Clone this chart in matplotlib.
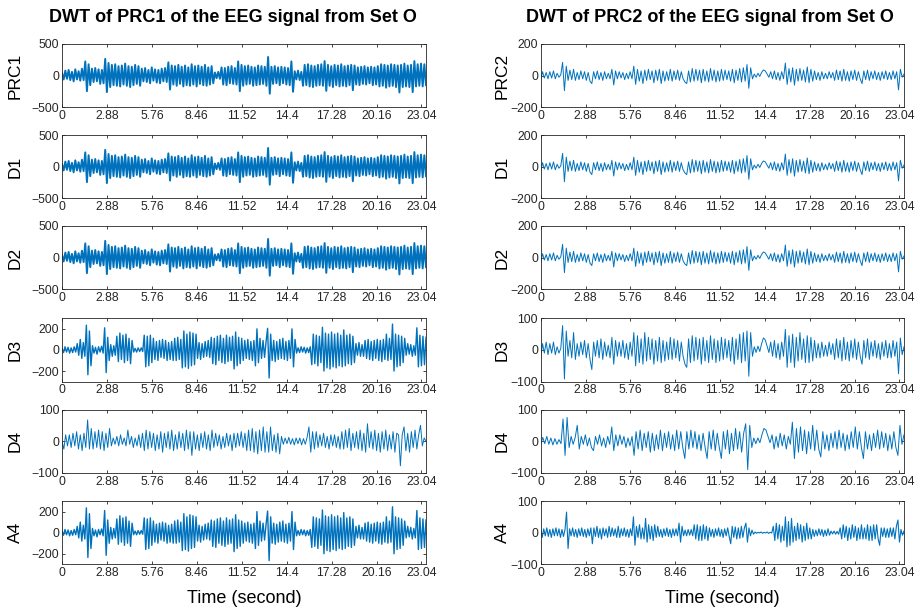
import numpy as np
import matplotlib
matplotlib.use('Agg')
import matplotlib.pyplot as plt

plt.rcParams['font.family'] = ['Liberation Sans', 'DejaVu Sans']

# ---------------- data (extrema) ----------------
T_END = 23.33
tick_labels = ['0', '2.88', '5.76', '8.46', '11.52', '14.4', '17.28', '20.16', '23.04']

prc1_left = [40,-60,80,-50,90,-70,60,-90,100,-60,70,-80,110,-70,
             225,-245,180,-150,
             110,-100,120,-90,100,-130,90,
             -120,265,-260,200,-180,
             170,-150,180,-160,150,-170,160,-140,190,-160,150,-180,140,-150,170,-130,150,-160,
             110,-90,120,-100,90,-120,130,-80,100,-110,90,-120,110,-90,120,-100,
             210,-220,160,-140,
             150,-160,170,-130,140,-170,160,-150,130,-160,180,-140,150,-170,160,-130,140,-150,170,-160,130,-140,150,-120,
             50,-40,60,-50,
             130,-140,120,-150,140,-120,150,-130,120,-140,
             225,-245,170,-160,
             150,-140,160,-130,140,-160,130,-150,160,-140,150,-130,140,-160,
             295,-285,
             140,-130,150,-120,130,-150,140,-120,130,-140,120,-150,
             225,-255,
             70,-60,80,-70,60,
             -160,170,-150,180,-170,160,-180,150,-160,170,-150,180,-160,230,-240,170,-160,150,-180,170,
             -150,160,-170,180,-160,150,-170,160,-150,170,-230,160,
             -140,130,-150,140,-130,150,-140,130,-120,140,-150,130,-140,150,
             -170,180,-160,170,-190,160,-170,180,-160,170,-180,160,-265,170,-180,190,-170,160,-180,170,
             -260,230,-170,180,-160,190,-170,180,-150]
d1_left = prc1_left
d2_left = prc1_left

d3_left = [20,-25,30,-20,25,-30,20,-25,30,-20,
           60,-50,100,-80,70,-60,
           235,-235,180,-150,
           40,-30,25,-40,30,-20,35,-30,
           210,-215,120,-100,
           50,-60,40,-50,
           130,-110,160,-90,140,-120,150,-100,110,-130,90,
           -20,15,-20,20,-15,20,-15,
           140,-160,130,-150,140,-120,110,
           -90,80,-100,90,-70,100,-80,90,-100,70,-90,80,-100,
           110,-100,120,-90,100,
           -170,180,-160,150,-175,170,-150,160,-140,150,
           -80,70,-90,60,-70,80,-60,90,-70,
           120,-130,110,-140,130,-100,140,-120,110,-130,140,-110,120,-100,130,
           -180,170,-150,120,-130,110,-100,
           90,-80,100,-90,80,-100,90,
           -150,200,-120,110,
           -80,90,-70,80,
           205,-265,150,
           -100,90,-110,80,-90,100,-80,110,-90,80,-100,90,-80,
           200,-160,100,
           -30,20,-25,30,-20,25,-30,20,-25,30,
           -140,150,-130,140,-150,130,-120,
           215,-200,160,-170,150,-180,170,-160,150,-170,160,
           -150,140,-160,190,-150,140,-130,150,-140,130,-120,
           60,-50,70,-60,50,-60,
           90,-80,100,-90,80,-100,90,-80,100,
           -100,90,-110,100,-90,150,-100,110,-90,
           245,-200,150,-160,140,-150,130,-120,110,
           -50,60,-40,50,-60,40,-50,
           210,-160,140,-150,130,-140,120]
a4_left = d3_left

d4_left = [0,-25,20,-15,
           20,-20,25,-15,30,-25,20,-30,25,-20,
           67,-25,40,-25,
           30,-20,35,-25,30,-30,25,-20,
           40,
           -15,10,-10,15,-15,20,-10,10,-15,35,-10,15,-20,10,-15,20,
           -20,25,-30,35,-25,30,-20,25,-30,20,-25,30,-35,25,-20,30,-25,35,-30,20,-25,30,-20,25,-30,35,-25,30,
           -45,
           30,-25,20,-30,25,-20,30,-25,20,-30,35,-20,25,-15,
           20,-25,15,-20,25,-15,20,-30,25,-20,
           25,-15,30,-20,25,
           -30,35,-30,40,-35,30,-40,35,-30,45,-35,30,-35,45,-30,
           20,-35,25,-40,15,
           -10,10,-8,12,-10,8,-12,10,-8,10,-12,8,-10,12,
           45,-35,30,-25,30,-20,
           20,-15,25,-20,15,-25,20,-15,20,-20,15,-25,
           30,-25,35,-20,40,-30,25,-20,
           30,-25,35,-30,25,-35,55,-20,
           30,-25,35,-30,25,-35,30,-25,35,-30,20,-25,30,-35,25,20,-78,
           20,45,-30,25,-35,30,-20,35,-25,20,50,-15,10,0]

prc2 = [-30,25,-15,20,-20,25,-15,30,-20,15,-10,5,
        84,-95,60,
        -30,35,-25,40,-30,20,
        -25,30,-20,25,-30,20,-35,-50,25,-20,30,-25,20,-30,25,-20,15,-20,
        40,-59,30,
        -20,25,-15,20,-25,15,-20,25,-20,
        60,-55,
        40,-35,30,-50,35,-30,40,-25,30,-45,35,-30,40,-50,30,-35,25,-30,40,-35,30,-25,35,-30,25,-20,
        -40,-50,
        30,-40,45,-35,40,-30,35,-45,40,-35,30,-40,45,-30,35,-40,30,-35,40,-30,35,-25,30,-35,40,-45,35,-30,45,-40,50,-35,
        70,-80,50,-20,
        10,-10,15,-5,
        20,36,30,10,-10,
        25,-20,30,-25,20,-30,25,-20,
        80,-55,
        45,-40,50,-60,40,-35,45,-30,35,-40,
        55,-45,40,-35,30,
        -25,20,-30,25,-20,15,-20,25,-15,20,
        -30,35,-25,30,-35,40,-30,25,-35,30,-25,35,-30,25,-20,-50,
        30,-25,35,-30,25,-20,30,-25,20,-30,25,-20,30,-25,
        20,-25,30,-20,25,-90,40,-10,10]
d1_right = prc2
d2_right = prc2

d3_right = [-25,20,-10,25,-15,20,-10,25,-15,10,-10,5,
            77,-92,60,
            -20,30,-25,55,-30,20,
            -20,25,-15,30,-25,20,-30,-62,25,-20,30,-25,35,-30,25,-20,15,-25,
            40,-45,30,
            -20,25,-20,30,-25,20,-30,25,-20,
            55,-50,
            45,-40,35,-45,55,-35,40,-30,35,-45,30,-35,40,-40,30,-35,25,-30,40,-30,35,-25,30,-35,25,-20,
            -45,-55,
            35,-40,45,-35,40,-30,35,-45,40,-35,30,-40,45,-30,35,-40,30,-35,40,-30,35,-25,30,-35,40,-45,35,-30,50,-40,55,-35,
            60,-83,55,-20,
            10,-8,12,-5,
            20,38,32,12,-8,
            25,-20,30,-25,20,-30,25,-20,
            65,-55,
            45,-40,50,-55,40,-35,55,-30,35,-40,
            45,-40,40,-35,30,
            -25,20,-25,25,-20,15,-20,25,-15,20,
            -30,35,-25,30,-35,40,-30,25,-35,30,-25,35,-30,25,-20,-45,
            30,-25,35,-30,25,-20,30,-25,20,-30,25,-20,30,-25,
            20,-25,30,-20,25,-75,38,-15,10]

d4_right = [-10,12,-8,15,-10,10,-12,8,-10,5,-8,
            70,-45,75,-20,
            15,-10,12,50,-25,
            15,-10,20,-15,10,-20,-30,15,-10,20,-15,10,-20,15,-10,
            45,-30,20,
            -15,20,-10,15,-20,10,-15,15,
            -45,
            30,-25,35,-30,25,-20,30,-35,25,-30,20,-25,35,-30,25,-20,30,-25,20,-30,35,-25,30,-20,
            -55,
            30,-25,35,-20,30,-25,20,-30,25,-20,
            -55,
            30,-25,35,-30,25,-20,
            -55,
            30,-25,35,-40,25,-30,40,-25,30,-35,25,
            55,-90,50,-20,
            10,-8,10,-5,
            20,40,35,15,-5,
            20,-25,15,-20,25,-15,20,-25,15,-10,
            60,-55,
            40,-35,45,-30,35,-40,30,-25,
            50,-30,35,-25,-50,
            30,-25,20,-30,25,-20,30,-25,35,-20,25,-30,20,-25,30,-20,45,-25,30,-20,
            -55,
            30,-25,20,-30,25,-20,35,-25,30,-20,25,-30,20,-25,30,-20,
            -45,50,-10,20]

a4_right = [10,-15,12,-10,15,-12,10,-15,12,-10,15,-10,12,-15,10,-12,10,
            65,-50,
            12,-10,15,-12,10,-15,12,-10,15,-12,10,-15,12,-10,15,
            -35,
            15,-12,20,-15,12,-20,15,-10,12,-15,20,-12,15,-10,12,-15,20,-15,12,-10,15,-12,10,-15,12,-10,
            50,-40,
            20,-15,25,-20,15,-20,
            45,-30,
            25,-20,20,-25,25,-15,20,
            -12,10,-15,12,-10,15,-12,10,-15,12,-10,12,-10,
            30,-30,20,
            -10,8,-10,10,-8,10,-10,
            25,-20,25,-25,20,-25,25,-20,20,-25,
            15,-12,10,-15,12,-10,15,-12,10,-15,12,-10,15,-12,
            -35,
            20,-15,18,-20,15,-18,20,-15,15,
            30,-30,15,
            -10,8,-5,
            2,-2,1,-1,2,-2,1,-1,2,-2,1,-1,
            20,-25,30,-20,25,-30,20,-25,
            50,-45,35,-40,
            45,-30,20,
            -25,30,-20,25,-30,20,-25,30,-20,15,-20,
            10,-12,8,-10,12,-8,10,-12,8,-10,12,-8,
            5,-4,5,-5,4,-5,
            15,-20,25,-15,20,-25,15,-20,25,-15,20,-25,15,-20,25,-20,15,-20,25,
            -25,20,-25,25,-20,25,-20,-40,
            15,-12,15,-15,12,-15,15,-12,15,
            -20,20,
            40,-30,
            10,-8,5]

left_panels = [(prc1_left, 'PRC1', 500, 1.4), (d1_left, 'D1', 500, 1.4), (d2_left, 'D2', 500, 1.4),
               (d3_left, 'D3', 300, 1.0), (d4_left, 'D4', 100, 0.7), (a4_left, 'A4', 300, 1.0)]
right_panels = [(prc2, 'PRC2', 200, 0.7), (d1_right, 'D1', 200, 0.7), (d2_right, 'D2', 200, 0.7),
                (d3_right, 'D3', 100, 0.7), (d4_right, 'D4', 100, 0.7), (a4_right, 'A4', 100, 0.8)]
ytick_sets = {500: [-500, 0, 500], 300: [-200, 0, 200], 200: [-200, 0, 200], 100: [-100, 0, 100]}

# ---------------- figure ----------------
W, H = 916, 613
fig = plt.figure(figsize=(W / 100, H / 100), dpi=100)
LINE = '#0072BD'
AX = '#262626'

tops = [44, 135, 226, 318.3, 409.5, 501]
ph = 63.3
cols = [(62, 364, left_panels, -39), (540.7, 363.3, right_panels, -31)]

xt = [2.88 * k for k in range(len(tick_labels))]

for x0, w, panels, lab_off in cols:
    for top, (vals, lab, lim, lw) in zip(tops, panels):
        ax = fig.add_axes([x0 / W, 1 - (top + ph) / H, w / W, ph / H])
        t = np.linspace(0, T_END, len(vals))
        ax.plot(t, vals, color=LINE, lw=lw)
        ax.set_xlim(0, T_END)
        ax.set_ylim(-lim, lim)
        ax.set_yticks(ytick_sets[lim])
        ax.set_xticks(xt)
        ax.set_xticklabels(tick_labels)
        ax.tick_params(direction='in', length=2.5, width=0.6, colors=AX,
                       labelsize=8.8, top=True, right=True, pad=2)
        for s in ax.spines.values():
            s.set_linewidth(0.6)
            s.set_color(AX)
        ax.set_ylabel(lab, fontsize=12.5, color='black')
        ax.yaxis.set_label_coords(lab_off / w, 0.5)
    ax.set_xlabel('Time (second)', fontsize=13, color='black', labelpad=8)

fig.text(233 / W, 1 - 17 / H, 'DWT of PRC1 of the EEG signal from Set O',
         ha='center', va='center', fontsize=13, fontweight='bold')
fig.text(710 / W, 1 - 17 / H, 'DWT of PRC2 of the EEG signal from Set O',
         ha='center', va='center', fontsize=13, fontweight='bold')

fig.savefig('out.png', dpi=100)
